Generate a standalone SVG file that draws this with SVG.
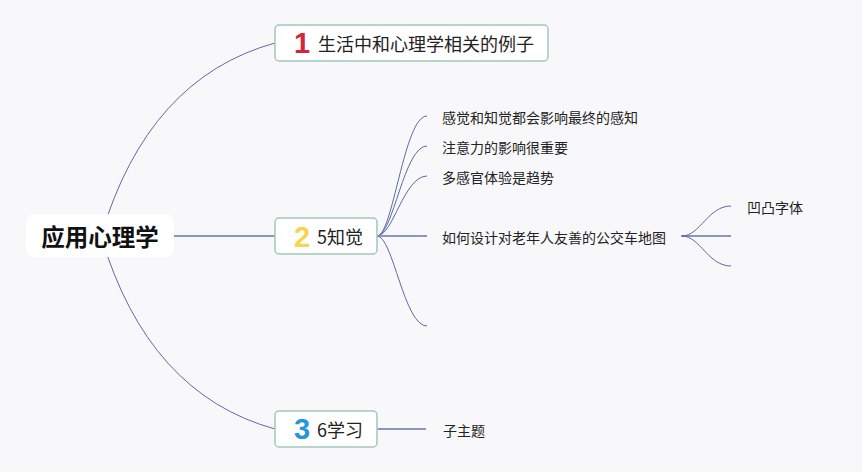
<svg xmlns="http://www.w3.org/2000/svg" width="862" height="472" viewBox="0 0 862 472">
<style>
.bg{fill:#f8f8fa}
.box{fill:#ffffff;stroke:#a3c7bb;stroke-width:1.5}
.curve{fill:none;stroke:#5a6ca6;stroke-width:1}
.straight{fill:none;stroke:#8a96c2;stroke-width:2}
.t{font-family:"Noto Sans CJK SC","Liberation Sans",sans-serif;fill:#222;dominant-baseline:central}
.main{font-size:23.5px;font-weight:bold;fill:#111;text-anchor:middle}
.topic{font-size:18px}
.leaf{font-size:14px}
.num{font-family:"Liberation Sans",sans-serif;font-weight:bold;font-size:29px;text-anchor:middle;dominant-baseline:central}
</style>
<rect class="bg" x="0" y="0" width="862" height="472"/>
<g id="connectors">
<path class="curve" d="M101 236 Q148 78 275 43"/>
<path class="curve" d="M101 236 Q148 394 275 429"/>
<path class="straight" d="M174 236 H275"/>
<path class="curve" d="M377 236 C393 236 404 116 427 116"/>
<path class="curve" d="M377 236 C393 236 404 146 427 146"/>
<path class="curve" d="M377 236 C393 236 404 176 427 176"/>
<path class="straight" d="M377 236 H427"/>
<path class="curve" d="M377 236 C393 236 404 326 427 326"/>
<path class="straight" d="M681 236 H731"/>
<path class="curve" d="M682 236 C700 236 708 206 731 206"/>
<path class="curve" d="M682 236 C700 236 708 266 731 266"/>
<path class="straight" d="M377 429 H426"/>
</g>
<g id="central">
<rect x="26" y="214" width="148" height="43" rx="8" fill="#ffffff"/>
<text class="t main" x="100" y="236">应用心理学</text>
</g>
<g id="node1">
<rect class="box" x="275" y="25" width="273" height="36" rx="4"/>
<text class="num" x="302" y="43" fill="#d8233a">1</text>
<text class="t topic" x="318" y="43">生活中和心理学相关的例子</text>
</g>
<g id="node2">
<rect class="box" x="275" y="218" width="102" height="36" rx="4"/>
<text class="num" x="302" y="237" fill="#f6d54c">2</text>
<text class="t topic" x="317" y="236">5知觉</text>
</g>
<g id="node3">
<rect class="box" x="275" y="411" width="102" height="36" rx="4"/>
<text class="num" x="302" y="429" fill="#2696dc">3</text>
<text class="t topic" x="317" y="429">6学习</text>
</g>
<g id="leaf1"><text class="t leaf" x="442" y="117">感觉和知觉都会影响最终的感知</text></g>
<g id="leaf2"><text class="t leaf" x="442" y="147">注意力的影响很重要</text></g>
<g id="leaf3"><text class="t leaf" x="442" y="177">多感官体验是趋势</text></g>
<g id="leaf4"><text class="t leaf" x="442" y="237">如何设计对老年人友善的公交车地图</text></g>
<g id="leaf5"><text class="t leaf" x="747" y="207">凹凸字体</text></g>
<g id="leaf6"><text class="t leaf" x="443" y="430">子主题</text></g>
</svg>
